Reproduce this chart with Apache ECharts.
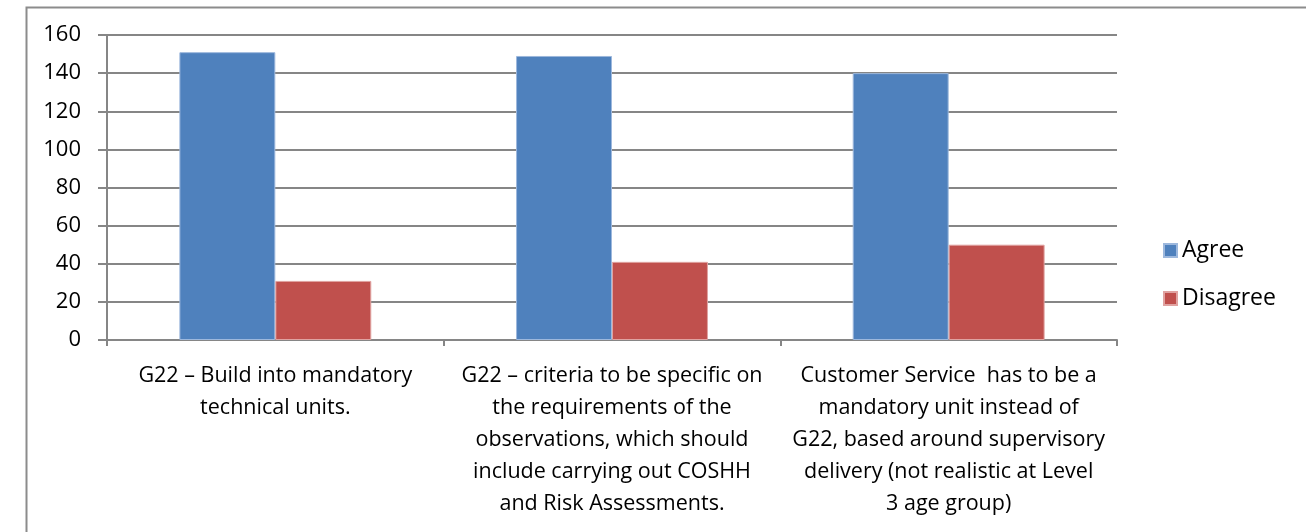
<!DOCTYPE html>
<html>
<head>
<meta charset="utf-8">
<script src="https://cdn.jsdelivr.net/npm/echarts@6/dist/echarts.min.js"></script>
<style>
  html, body { margin: 0; padding: 0; background: #fff; }
  #chart { width: 1306px; height: 532px; }
</style>
</head>
<body>
<div id="chart"></div>
<script>
const categories = [
  'G22 \u2013 Build into mandatory\ntechnical units.',
  'G22 \u2013 criteria to be specific on\nthe requirements of the\nobservations, which should\ninclude carrying out COSHH\nand Risk Assessments.',
  'Customer Service  has to be a\nmandatory unit instead of\nG22, based around supervisory\ndelivery (not realistic at Level\n3 age group)'
]
const agree = [151, 149, 140]
const disagree = [31, 41, 50]

const fontFamily = '"Open Sans", sans-serif'
const gridColor = '#868686'

const myChart = echarts.init(document.getElementById('chart'))
myChart.setOption({
  animation: false,
  textStyle: { fontFamily: fontFamily },
  graphic: [
    {
      type: 'rect',
      left: 24,
      top: 5,
      shape: { width: 1400, height: 600 },
      style: { fill: 'none', stroke: '#8c8c8c', lineWidth: 2 },
      silent: true
    }
  ],
  grid: {
    left: 107,
    right: 189,
    top: 35,
    bottom: 192
  },
  legend: {
    orient: 'vertical',
    left: 1158,
    top: 234,
    itemWidth: 13,
    itemHeight: 13,
    itemGap: 25,
    icon: 'rect',
    textStyle: { fontSize: 23, color: '#000', fontFamily: fontFamily },
    data: ['Agree', 'Disagree']
  },
  xAxis: {
    type: 'category',
    data: categories,
    axisLine: { lineStyle: { color: gridColor, width: 2 } },
    axisTick: { show: true, length: 6, lineStyle: { color: gridColor, width: 2 } },
    axisLabel: {
      interval: 0,
      color: '#000',
      fontSize: 21.5,
      lineHeight: 32,
      margin: 20,
      align: 'center',
      fontFamily: fontFamily
    }
  },
  yAxis: {
    type: 'value',
    min: 0,
    max: 160,
    interval: 20,
    axisLine: { show: true, lineStyle: { color: gridColor, width: 2 } },
    axisTick: { show: true, length: 9, lineStyle: { color: gridColor, width: 2 } },
    splitLine: { lineStyle: { color: gridColor, width: 2 } },
    axisLabel: {
      color: '#000',
      fontSize: 22,
      margin: 26,
      fontFamily: fontFamily
    }
  },
  series: [
    {
      name: 'Agree',
      type: 'bar',
      data: agree,
      barGap: '0%',
      barCategoryGap: '43%',
      itemStyle: { color: '#4F81BD', borderColor: '#9db8dd', borderWidth: 1 }
    },
    {
      name: 'Disagree',
      type: 'bar',
      data: disagree,
      itemStyle: { color: '#C0504D', borderColor: '#e0a3a1', borderWidth: 1 }
    }
  ]
})
</script>
</body>
</html>
